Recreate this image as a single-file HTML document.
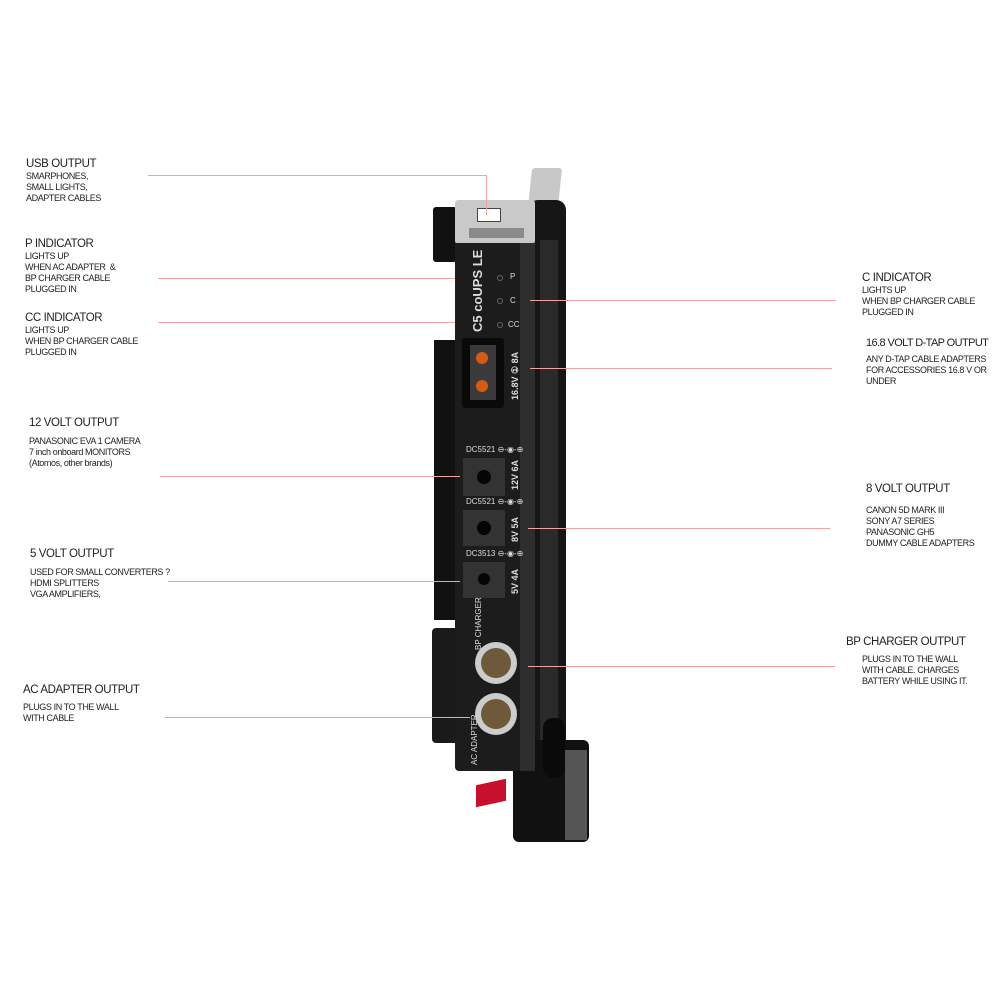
<!DOCTYPE html>
<html><head><meta charset="utf-8"><style>
body{margin:0;width:1000px;height:1000px;background:#fff;position:relative;overflow:hidden;font-family:"Liberation Sans",sans-serif;color:#222}
.t{position:absolute;font-size:11px;line-height:12px;white-space:nowrap;letter-spacing:-0.4px}
.t b{font-weight:normal;font-size:11.5px;display:block;margin-bottom:1px}
.t span{font-size:9px;line-height:11px;display:block}
.l{position:absolute;height:1px;background:#f2a2a2}
.v{position:absolute;width:1px;background:#f2a2a2}
.a{position:absolute}
.w{color:#ddd;font-size:8px;position:absolute;white-space:nowrap}
</style></head><body>

<div class="a" style="left:530px;top:168px;width:30px;height:40px;background:#c8c8c8;border-radius:3px;transform:skewX(-6deg)"></div>
<div class="a" style="left:528px;top:200px;width:38px;height:560px;background:#161616;border-radius:10px"></div>
<div class="a" style="left:540px;top:240px;width:18px;height:500px;background:#2a2a2a"></div>
<div class="a" style="left:513px;top:740px;width:76px;height:102px;background:#111;border-radius:6px"></div>
<div class="a" style="left:565px;top:750px;width:22px;height:90px;background:#555"></div>
<div class="a" style="left:543px;top:718px;width:22px;height:60px;background:#0a0a0a;border-radius:10px"></div>
<div class="a" style="left:476px;top:782px;width:30px;height:22px;background:#c8102e;transform:skewY(-12deg)"></div>
<div class="a" style="left:433px;top:207px;width:24px;height:55px;background:#111;border-radius:3px"></div>
<div class="a" style="left:432px;top:628px;width:28px;height:115px;background:#1a1a1a;border-radius:4px"></div>
<div class="a" style="left:434px;top:340px;width:24px;height:280px;background:#111"></div>
<div class="a" style="left:455px;top:200px;width:80px;height:44px;background:#c9c9c9;border-radius:3px"></div>
<div class="a" style="left:477px;top:208px;width:22px;height:12px;background:#fff;border:1px solid #444"></div>
<div class="a" style="left:469px;top:228px;width:55px;height:10px;background:#8a8a8a"></div>
<div class="a" style="left:455px;top:243px;width:80px;height:528px;background:#1c1c1c;border-radius:0 0 4px 4px"></div>
<div class="a" style="left:520px;top:243px;width:15px;height:528px;background:#2e2e2e"></div>
<div class="w" style="left:470px;top:332px;font-size:13px;font-weight:bold;transform:rotate(-90deg);transform-origin:left top">C5 coUPS LE</div>
<div class="w" style="left:510px;top:272px">P</div>
<div class="w" style="left:510px;top:296px">C</div>
<div class="w" style="left:508px;top:320px">CC</div>
<div class="a" style="left:497px;top:275px;width:4px;height:4px;border:1px solid #666;border-radius:50%"></div>
<div class="a" style="left:497px;top:298px;width:4px;height:4px;border:1px solid #666;border-radius:50%"></div>
<div class="a" style="left:497px;top:322px;width:4px;height:4px;border:1px solid #666;border-radius:50%"></div>
<div class="a" style="left:462px;top:338px;width:42px;height:70px;background:#0a0a0a;border-radius:3px"></div>
<div class="a" style="left:470px;top:345px;width:26px;height:55px;background:#3a3a3a"></div>
<div class="a" style="left:476px;top:352px;width:12px;height:12px;background:#d65a14;border-radius:50%"></div>
<div class="a" style="left:476px;top:380px;width:12px;height:12px;background:#d65a14;border-radius:50%"></div>
<div class="w" style="left:510px;top:400px;transform:rotate(-90deg);transform-origin:left top;font-size:9px;font-weight:bold">16.8V ① 8A</div>
<div class="w" style="left:466px;top:445px">DC5521 ⊖-◉-⊕</div>
<div class="a" style="left:463px;top:458px;width:42px;height:38px;background:#333"></div>
<div class="a" style="left:477px;top:470px;width:14px;height:14px;background:#050505;border-radius:50%"></div>
<div class="w" style="left:510px;top:490px;transform:rotate(-90deg);transform-origin:left top;font-size:9px;font-weight:bold">12V 6A</div>
<div class="w" style="left:466px;top:497px">DC5521 ⊖-◉-⊕</div>
<div class="a" style="left:463px;top:510px;width:42px;height:36px;background:#333"></div>
<div class="a" style="left:477px;top:521px;width:14px;height:14px;background:#050505;border-radius:50%"></div>
<div class="w" style="left:510px;top:542px;transform:rotate(-90deg);transform-origin:left top;font-size:9px;font-weight:bold">8V 5A</div>
<div class="w" style="left:466px;top:549px">DC3513 ⊖-◉-⊕</div>
<div class="a" style="left:463px;top:562px;width:42px;height:36px;background:#333"></div>
<div class="a" style="left:478px;top:573px;width:12px;height:12px;background:#050505;border-radius:50%"></div>
<div class="w" style="left:510px;top:594px;transform:rotate(-90deg);transform-origin:left top;font-size:9px;font-weight:bold">5V 4A</div>
<div class="w" style="left:474px;top:650px;transform:rotate(-90deg);transform-origin:left top;font-size:8px">BP CHARGER</div>
<div class="a" style="left:475px;top:642px;width:42px;height:42px;background:#ccc;border-radius:50%"></div>
<div class="a" style="left:481px;top:648px;width:30px;height:30px;background:#6e5a38;border-radius:50%"></div>
<div class="a" style="left:475px;top:693px;width:42px;height:42px;background:#ccc;border-radius:50%"></div>
<div class="a" style="left:481px;top:699px;width:30px;height:30px;background:#6e5a38;border-radius:50%"></div>
<div class="w" style="left:470px;top:765px;transform:rotate(-90deg);transform-origin:left top;font-size:8px">AC ADAPTER</div>

<div class="l" style="left:148px;top:175px;width:338px"></div>
<div class="v" style="left:486px;top:175px;height:40px"></div>
<div class="l" style="left:158px;top:278px;width:297px"></div>
<div class="l" style="left:158px;top:322px;width:297px"></div>
<div class="l" style="left:160px;top:476px;width:300px"></div>
<div class="l" style="left:168px;top:581px;width:292px"></div>
<div class="l" style="left:165px;top:717px;width:305px"></div>
<div class="l" style="left:530px;top:300px;width:306px"></div>
<div class="l" style="left:530px;top:368px;width:302px"></div>
<div class="l" style="left:528px;top:528px;width:302px"></div>
<div class="l" style="left:528px;top:666px;width:307px"></div>

<div class="t" style="left:26px;top:158px"><b>USB OUTPUT</b><span>SMARPHONES,</span><span>SMALL LIGHTS,</span><span>ADAPTER CABLES</span></div>
<div class="t" style="left:25px;top:238px"><b>P INDICATOR</b><span>LIGHTS UP</span><span>WHEN AC ADAPTER &nbsp;&amp;</span><span>BP CHARGER CABLE</span><span>PLUGGED IN</span></div>
<div class="t" style="left:25px;top:312px"><b>CC INDICATOR</b><span>LIGHTS UP</span><span>WHEN BP CHARGER CABLE</span><span>PLUGGED IN</span></div>
<div class="t" style="left:29px;top:417px"><b style="margin-bottom:7px">12 VOLT OUTPUT</b><span>PANASONIC EVA 1 CAMERA</span><span>7 inch onboard MONITORS</span><span>(Atomos, other brands)</span></div>
<div class="t" style="left:30px;top:548px"><b style="margin-bottom:7px">5 VOLT OUTPUT</b><span>USED FOR SMALL CONVERTERS ?</span><span>HDMI SPLITTERS</span><span>VGA AMPLIFIERS,</span></div>
<div class="t" style="left:23px;top:684px"><b style="margin-bottom:6px">AC ADAPTER OUTPUT</b><span>PLUGS IN TO THE WALL</span><span>WITH CABLE</span></div>
<div class="t" style="left:862px;top:272px"><b>C INDICATOR</b><span>LIGHTS UP</span><span>WHEN BP CHARGER CABLE</span><span>PLUGGED IN</span></div>
<div class="t" style="left:866px;top:337px"><b style="margin-bottom:5px;font-size:11px;letter-spacing:-0.6px">16.8 VOLT D-TAP OUTPUT</b><span>ANY D-TAP CABLE ADAPTERS</span><span>FOR ACCESSORIES 16.8 V OR</span><span>UNDER</span></div>
<div class="t" style="left:866px;top:483px"><b style="margin-bottom:10px">8 VOLT OUTPUT</b><span>CANON 5D MARK III</span><span>SONY A7 SERIES</span><span>PANASONIC GH5</span><span>DUMMY CABLE ADAPTERS</span></div>
<div class="t" style="left:846px;top:636px"><b style="margin-bottom:6px">BP CHARGER OUTPUT</b><span style="padding-left:16px">PLUGS IN TO THE WALL</span><span style="padding-left:16px">WITH CABLE. CHARGES</span><span style="padding-left:16px">BATTERY WHILE USING IT.</span></div>
</body></html>
